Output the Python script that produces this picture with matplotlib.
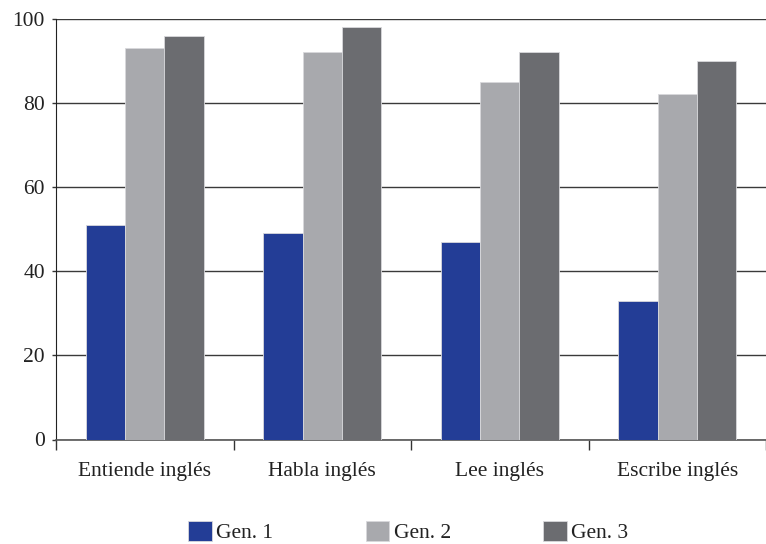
import numpy as np
import matplotlib
matplotlib.use("Agg")
import matplotlib.pyplot as plt

# data
categories = ["Entiende inglés", "Habla inglés", "Lee inglés", "Escribe inglés"]
series_names = ["Gen. 1", "Gen. 2", "Gen. 3"]
gen1 = [51, 49, 47, 33]
gen2 = [93, 92, 85, 82]
gen3 = [96, 98, 92, 90]
y_ticks = [0, 20, 40, 60, 80, 100]

colors = ["#233d96", "#a8a9ad", "#6b6c70"]

plt.rcParams["font.family"] = ["Liberation Serif", "DejaVu Serif"]
plt.rcParams["font.size"] = 15.5

fig = plt.figure(figsize=(7.66, 5.44), dpi=100)
ax = fig.add_axes([56 / 766, 104.5 / 544, 710 / 766, 420.8 / 544])

x = np.arange(len(categories))
width = 0.222
for i, (vals, name) in enumerate(zip([gen1, gen2, gen3], series_names)):
    ax.bar(x + (i - 1) * width, vals, width, color=colors[i], label=name,
           edgecolor="#d8d8dc", linewidth=0.6, zorder=3)

ax.set_ylim(0, 100)
ax.set_xlim(-0.5, -0.5 + 710 / 178.5)
ax.set_yticks(y_ticks)
ax.yaxis.grid(True, color="#3a3a3a", linewidth=1.0, zorder=0)
ax.set_axisbelow(True)

# boundaries get tick marks, centers get the labels
ax.set_xticks(np.arange(len(categories) + 1) - 0.5)
ax.set_xticklabels([])
ax.set_xticks(x, minor=True)
ax.set_xticklabels(categories, minor=True)
ax.tick_params(axis="x", which="major", length=7, width=1, color="#333333")
ax.tick_params(axis="x", which="minor", length=0, pad=16, labelcolor="#222222")
ax.tick_params(axis="y", length=3, width=1, color="#333333", pad=5, labelcolor="#222222")

for s in ["top", "right"]:
    ax.spines[s].set_visible(False)
ax.spines["left"].set_color("#222222")
ax.spines["bottom"].set_color("#555555")
ax.spines["bottom"].set_linewidth(1.2)

fig.legend(loc="center", bbox_to_anchor=(0.533, 0.022), ncol=3, frameon=False,
           handlelength=1.1, handleheight=1.1, handletextpad=0.2,
           columnspacing=4.3, borderpad=0, fontsize=15.5, labelcolor="#222222")

fig.savefig("out.png", dpi=100)
